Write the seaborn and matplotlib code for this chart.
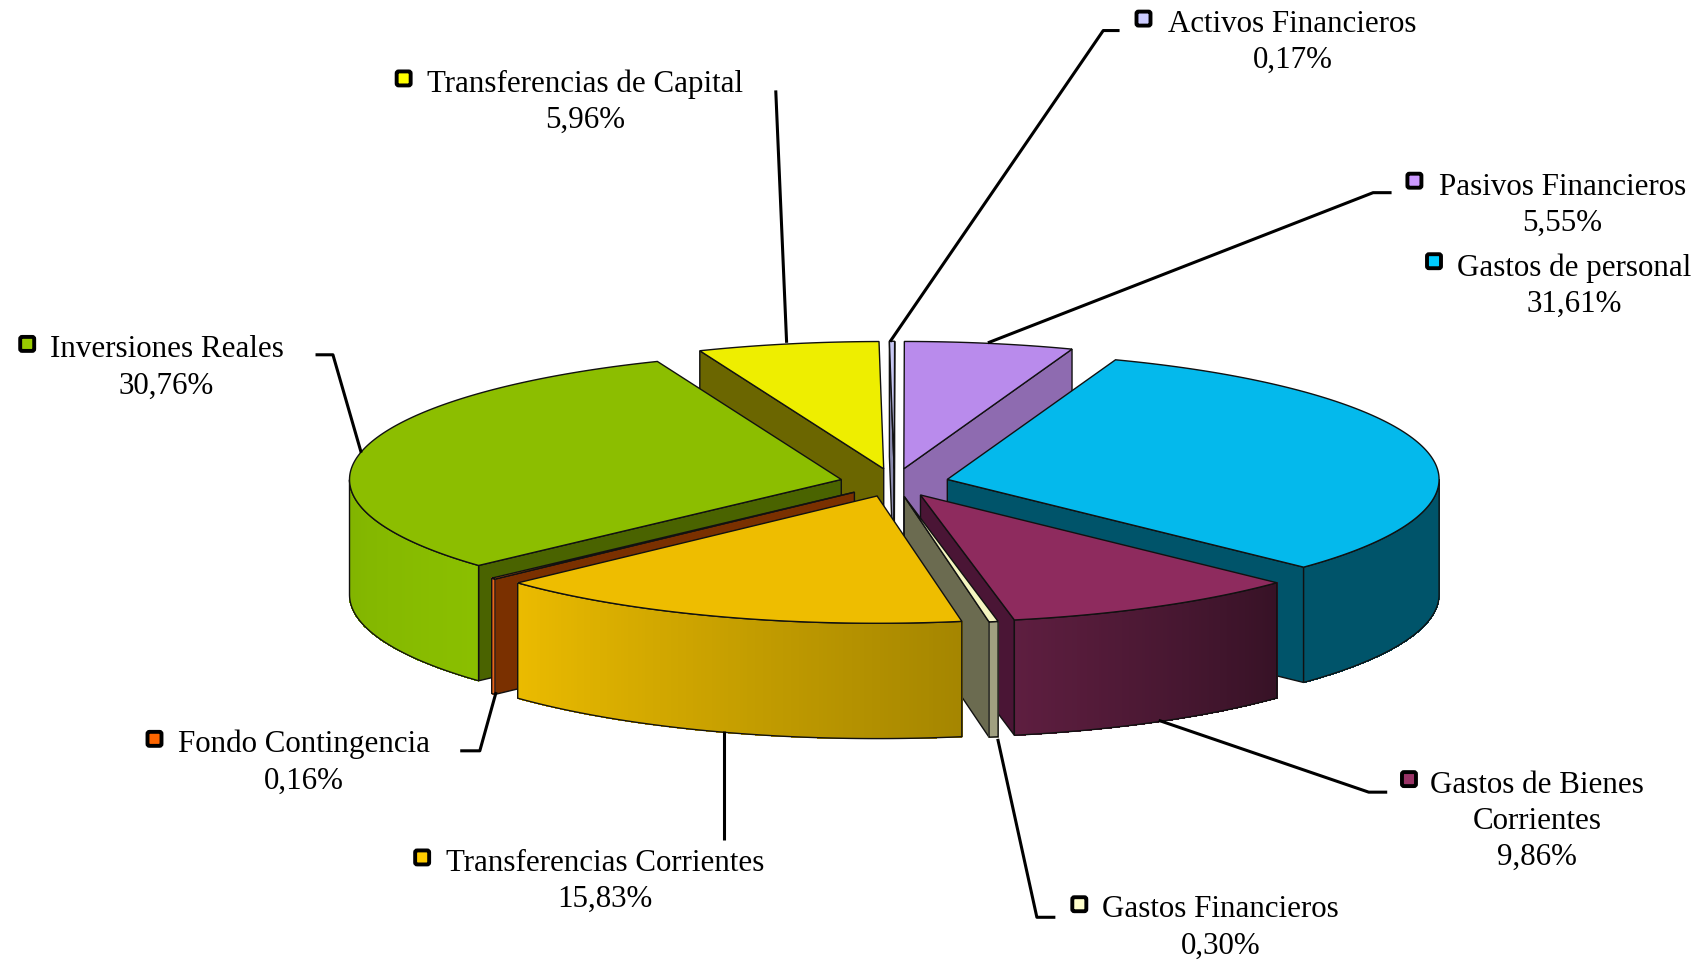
import numpy as np
import matplotlib
matplotlib.use("Agg")
import matplotlib.pyplot as plt
from matplotlib.patches import Polygon, FancyBboxPatch
import seaborn as sns

# datos: de las agujas del reloj desde arriba
conceptos = ["Activos Financieros", "Pasivos Financieros", "Gastos de personal",
             "Gastos de Bienes\nCorrientes", "Gastos Financieros", "Transferencias Corrientes",
             "Fondo Contingencia", "Inversiones Reales", "Transferencias de Capital"]
porcentajes = [0.17, 5.55, 31.61, 9.86, 0.30, 15.83, 0.16, 30.76, 5.96]
etiquetas_pct = ["0,17%", "5,55%", "31,61%", "9,86%", "0,30%", "15,83%", "0,16%", "30,76%", "5,96%"]

# colores
col_top = ["#C9C9F5", "#B98BEC", "#04B9EC", "#8E2B5E", "#F5F5C0", "#EEBD00", "#FF6A10", "#8CBE00", "#EEEE00"]
col_radial = ["#8C8CB0", "#8E6BB0", "#00546A", "#4A1535", "#6B6B50", "#8A7000", "#7A3000", "#4A6300", "#6B6600"]
col_izq = ["#9090B8", "#8E6BB0", "#00546A", "#5E1E40", "#A0A080", "#EBBB00", "#E8641A", "#80B300", "#6B6600"]
col_der = ["#9090B8", "#8E6BB0", "#00546A", "#371226", "#A0A080", "#A58600", "#E8641A", "#8ABF00", "#6B6600"]
col_key = ["#CCCCFF", "#CC99FF", "#00CCFF", "#993366", "#FFFFCC", "#FFCC00", "#FF6600", "#99CC00", "#FFFF00"]

# orden de pintado, de atras hacia delante
orden = [8, 0, 1, 2, 7, 6, 3, 4, 5]

S = 1706 / 1568  # la referencia la medi en 1568 de ancho
CX, CY = 822 * S, 444.5 * S
RX, RY = 452 * S, 117 * S
ALTO = 106 * S
EXPL = 50 * S
ANG_INICIO = 90.55

# posiciones de textos, cuadritos y lineas guia (en px de 1568)
pos_texto = [(1188, 39), (1436, 189), (1447, 263), (1413, 755), (1122, 853),
             (556, 810), (279, 701), (153, 338), (538, 94)]
pos_key = [(1051, 18), (1300, 167), (1318, 241), (1295, 717), (992, 832),
           (388, 789), (142, 680), (25, 317), (371, 73)]
guias = [
    [(818, 315), (1014, 29), (1029, 29)],
    [(908, 316), (1262, 178), (1279, 178)],
    [(1065, 663), (1258, 729), (1275, 729)],
    [(917, 680), (953, 844), (970, 844)],
    [(665, 673), (665, 773)],
    [(423, 691), (441, 691), (456, 637)],
    [(290, 327), (306, 327), (332, 417)],
    [(713, 84), (723, 316)],
]

sns.set_theme(style="white")
plt.rcParams["font.family"] = ["Liberation Serif", "DejaVu Serif"]

fig = plt.figure(figsize=(17.06, 9.62), dpi=100)
ax = fig.add_axes([0, 0, 1, 1])
ax.set_xlim(0, 1706)
ax.set_ylim(962, 0)
ax.axis("off")

# angulos de cada porcion
total = sum(porcentajes)
fin = ANG_INICIO - 360 * np.cumsum(porcentajes) / total
ini = np.concatenate([[ANG_INICIO], fin[:-1]])


def punto(cx, cy, ang):
    return cx + RX * np.cos(np.radians(ang)), cy - RY * np.sin(np.radians(ang))


z = 2
for i in orden:
    hi, lo = ini[i], fin[i]
    medio = np.radians((hi + lo) / 2)
    cx = CX + EXPL * np.cos(medio)
    cy = CY - EXPL * RY / RX * np.sin(medio)

    # paredes radiales
    for a, visible in ((hi, np.cos(np.radians(hi)) < 0), (lo, np.cos(np.radians(lo)) > 0)):
        if visible:
            x, y = punto(cx, cy, a)
            ax.add_patch(Polygon([(cx, cy), (x, y), (x, y + ALTO), (cx, cy + ALTO)],
                                 fc=col_radial[i], ec="#111111", lw=1, zorder=z))
            z += 1

    # pared exterior, solo la parte que da al frente
    angs = np.linspace(lo, hi, 121)
    angs = angs[np.sin(np.radians(angs)) <= 0.0001]
    if len(angs) > 1:
        xs, ys = punto(cx, cy, angs)
        orden_x = np.argsort(xs)
        xs, ys = xs[orden_x], ys[orden_x]
        pal = sns.blend_palette([col_izq[i], col_der[i]], len(xs) - 1)
        for k in range(len(xs) - 1):
            q = [(xs[k], ys[k]), (xs[k + 1], ys[k + 1]), (xs[k + 1], ys[k + 1] + ALTO), (xs[k], ys[k] + ALTO)]
            ax.add_patch(Polygon(q, fc=pal[k], ec=pal[k], lw=0.5, antialiased=False, zorder=z))
        borde = list(zip(xs, ys)) + list(zip(xs[::-1], ys[::-1] + ALTO))
        ax.add_patch(Polygon(borde, fill=False, ec="#111111", lw=1, zorder=z + 1))
        z += 2

    # tapa
    angs = np.linspace(lo, hi, 121)
    xs, ys = punto(cx, cy, angs)
    tapa = [(cx, cy)] + list(zip(xs, ys))
    ax.add_patch(Polygon(tapa, fc=col_top[i], ec="#111111", lw=1, zorder=z))
    z += 1

for g in guias:
    px = [p[0] * S for p in g]
    py = [p[1] * S for p in g]
    ax.plot(px, py, color="black", lw=2.2, zorder=100, solid_capstyle="butt")

for i, nombre in enumerate(conceptos):
    x, y = pos_texto[i]
    ax.text(x * S, y * S, nombre + "\n" + etiquetas_pct[i], ha="center", va="center",
            fontsize=22.3, color="black", linespacing=1.33, zorder=101)
    kx, ky = pos_key[i]
    lado = 14
    ax.add_patch(FancyBboxPatch((kx * S - lado / 2, ky * S - lado / 2), lado, lado,
                                boxstyle="round,pad=0,rounding_size=2", fc=col_key[i],
                                ec="black", lw=2.8, zorder=101))

fig.savefig("out.png", dpi=100, facecolor="white")
